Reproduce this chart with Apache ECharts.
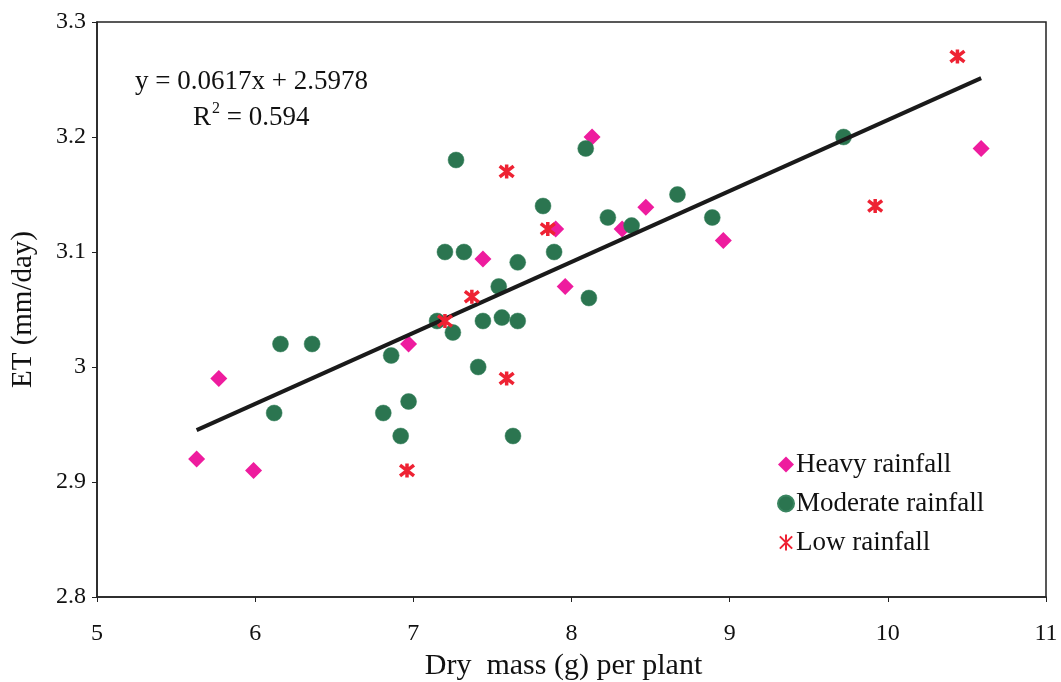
<!DOCTYPE html>
<html><head><meta charset="utf-8">
<script src="https://cdn.jsdelivr.net/npm/echarts@6/dist/echarts.min.js"></script>
<style>html,body{margin:0;padding:0;background:#fff}#c{width:1061px;height:682px}</style>
</head><body><div id="c"></div>
<script>
var heavy = [[5.63,2.92],[5.77,2.99],[5.99,2.91],[6.97,3.02],[7.44,3.094],[7.90,3.12],[7.96,3.07],[8.13,3.20],[8.32,3.12],[8.47,3.139],[8.96,3.11],[10.59,3.19]];
var moderate = [[6.12,2.96],[6.16,3.02],[6.36,3.02],[6.81,2.96],[6.86,3.01],[6.92,2.94],[6.97,2.97],[7.15,3.04],[7.25,3.03],[7.27,3.18],[7.20,3.10],[7.32,3.10],[7.41,3.00],[7.44,3.04],[7.54,3.07],[7.56,3.043],[7.63,2.94],[7.66,3.04],[7.66,3.091],[7.82,3.14],[7.89,3.10],[8.09,3.19],[8.11,3.06],[8.23,3.13],[8.38,3.123],[8.67,3.15],[8.89,3.13],[9.72,3.20]];
var low = [[6.96,2.91],[7.20,3.04],[7.37,3.061],[7.59,3.17],[7.59,2.99],[7.85,3.12],[9.92,3.14],[10.44,3.27]];
var slope = 0.0617, intercept = 2.5978;
var xTicks = [5,6,7,8,9,10,11];
var yTicks = [2.8,2.9,3,3.1,3.2,3.3];

var allX = heavy.concat(moderate, low).map(function(p){return p[0];});
var x0 = Math.min.apply(null, allX), x1 = Math.max.apply(null, allX);
var trend = [[x0, slope*x0+intercept],[x1, slope*x1+intercept]];

var FONT = '"Liberation Serif","Times New Roman",serif';
var chart = echarts.init(document.getElementById('c'), null, {renderer:'canvas'});
var starPath = 'path://M0,0L10,10M10,0L0,10M5,-1.5L5,11.5';
chart.setOption({
  animation:false,
  backgroundColor:'#fff',
  grid:{left:97,right:15,top:22,bottom:85,outerBoundsMode:'none',containLabel:false,show:true,borderColor:'#222',borderWidth:1.5},
  xAxis:{type:'value',min:5,max:11,interval:1,
    axisLine:{lineStyle:{color:'#222',width:1.5}},
    axisTick:{show:true,inside:false,length:5,lineStyle:{color:'#222'}},
    splitLine:{show:false},
    axisLabel:{color:'#111',fontFamily:FONT,fontSize:24,margin:25,formatter:function(v){return xTicks.indexOf(v)>=0?String(v):'';}},
    name:'Dry  mass (g) per plant',nameLocation:'middle',nameGap:54,
    nameTextStyle:{color:'#111',fontFamily:FONT,fontSize:30,padding:[0,16,0,0]}},
  yAxis:{type:'value',min:2.8,max:3.3,interval:0.1,
    axisLine:{lineStyle:{color:'#222',width:1.5}},
    axisTick:{show:true,length:5,lineStyle:{color:'#222'}},
    splitLine:{show:false},
    axisLabel:{color:'#111',fontFamily:FONT,fontSize:24,margin:11,formatter:function(v){var r=Math.round(v*10)/10;return yTicks.indexOf(r)>=0?String(r):'';}},
    name:'ET (mm/day)',nameLocation:'middle',nameGap:59,nameRotate:90,
    nameTextStyle:{color:'#111',fontFamily:FONT,fontSize:29}},
  legend:{orient:'vertical',left:772,top:446,itemGap:12,itemWidth:16,itemHeight:16,
    textStyle:{color:'#111',fontFamily:FONT,fontSize:27,padding:[0,0,0,-3]},
    data:['Heavy rainfall','Moderate rainfall','Low rainfall']},
  graphic:[
    {type:'text',left:135,top:68,style:{text:'y = 0.0617x + 2.5978',font:'27px '+FONT,fill:'#111'}},
    {type:'text',left:193,top:101,style:{text:'{a|R}{s|2}{a| = 0.594}',font:'27px '+FONT,fill:'#111',
      rich:{a:{fontFamily:FONT,fontSize:27,fill:'#111',verticalAlign:'bottom'},s:{fontFamily:FONT,fontSize:16,verticalAlign:'top',padding:[0,0,14,1]}}}}
  ],
  series:[
    {name:'Trend',type:'line',data:trend,symbol:'none',lineStyle:{color:'#1a1a1a',width:4},z:3,silent:true},
    {name:'Moderate rainfall',type:'scatter',data:moderate,symbol:'circle',symbolSize:16,
      itemStyle:{color:'#2b7550',borderColor:'#3a8560',borderWidth:0.5,opacity:1},z:2},
    {name:'Heavy rainfall',type:'scatter',data:heavy,symbol:'diamond',symbolSize:[17,17],
      itemStyle:{color:'#ee1c9e',opacity:1},z:1},
    {name:'Low rainfall',type:'scatter',data:low,symbol:starPath,symbolSize:14,
      itemStyle:{color:'#ee2233',borderColor:'#ee2233',borderWidth:3.5,opacity:1},z:4}
  ]
});
</script></body></html>
